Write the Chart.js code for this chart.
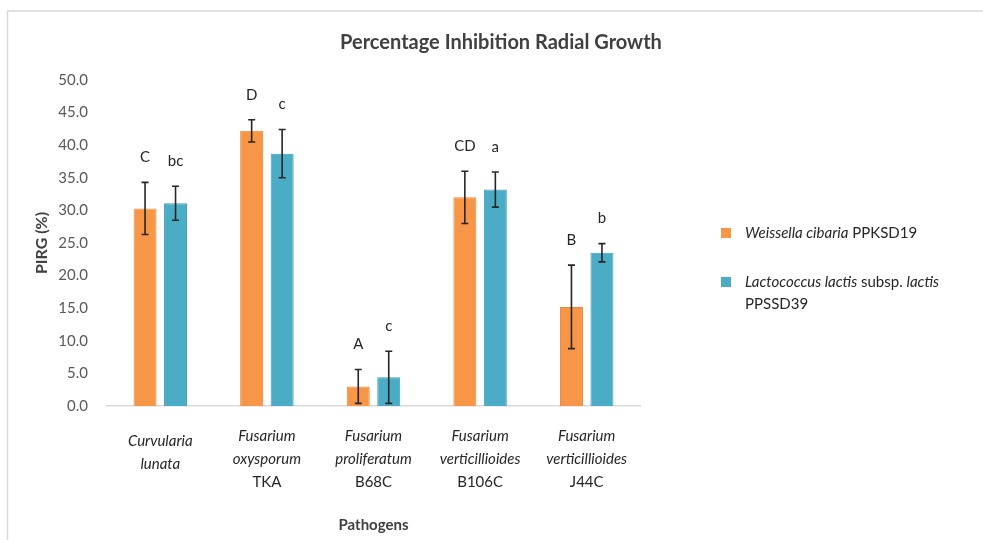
<!DOCTYPE html>
<html>
<head>
<meta charset="utf-8">
<script src="https://cdn.jsdelivr.net/npm/chart.js@4/dist/chart.umd.min.js"></script>
<style>
  html, body { margin: 0; padding: 0; background: #ffffff; }
  #wrap { position: relative; width: 983px; height: 540px; }
</style>
</head>
<body>
<div id="wrap"><canvas id="c" width="983" height="540"></canvas></div>
<script>
// Pathogen names: italic species lines, then an upright strain code (may be empty)
const pathogenSpecies = [
  ['Curvularia', 'lunata'],
  ['Fusarium', 'oxysporum'],
  ['Fusarium', 'proliferatum'],
  ['Fusarium', 'verticillioides'],
  ['Fusarium', 'verticillioides']
];
const pathogenStrain = ['', 'TKA', 'B68C', 'B106C', 'J44C'];

// Mean PIRG (%) and standard deviation per antagonist
const weissellaMean = [30.3, 42.2, 3.0, 32.0, 15.2];
const weissellaSD   = [4.0, 1.7, 2.6, 4.0, 6.4];
const lactococcusMean = [31.1, 38.7, 4.4, 33.2, 23.5];
const lactococcusSD   = [2.6, 3.7, 4.0, 2.7, 1.4];

// Significance letters shown above each bar
const weissellaLetters   = ['C', 'D', 'A', 'CD', 'B'];
const lactococcusLetters = ['bc', 'c', 'c', 'a', 'b'];

// Y axis ticks
const yTicks = [0, 5, 10, 15, 20, 25, 30, 35, 40, 45, 50];

const FONT = 'Lato, "Open Sans", "Liberation Sans", sans-serif';
const ORANGE = '#F79646';
const TEAL = '#4BACC6';

const errors = [weissellaSD, lactococcusSD];
const letters = [weissellaLetters, lactococcusLetters];

// Draws error bars, significance letters, category labels, axis titles, legend and frame
const decorations = {
  id: 'decorations',
  afterDatasetsDraw(chart) {
    const ctx = chart.ctx;
    const y = chart.scales.y;
    ctx.save();
    chart.data.datasets.forEach((ds, di) => {
      const meta = chart.getDatasetMeta(di);
      meta.data.forEach((bar, i) => {
        const v = ds.data[i];
        const sd = errors[di][i];
        const yTop = y.getPixelForValue(v + sd);
        const yBot = y.getPixelForValue(Math.max(0, v - sd));
        const x = bar.x;
        ctx.strokeStyle = '#262626';
        ctx.lineWidth = 1.6;
        ctx.beginPath();
        ctx.moveTo(x, yTop); ctx.lineTo(x, yBot);
        ctx.moveTo(x - 3.5, yTop); ctx.lineTo(x + 3.5, yTop);
        ctx.moveTo(x - 3.5, yBot); ctx.lineTo(x + 3.5, yBot);
        ctx.stroke();
        ctx.fillStyle = '#262626';
        ctx.font = '15px ' + FONT;
        ctx.textAlign = 'center';
        ctx.textBaseline = 'middle';
        ctx.fillText(letters[di][i], x, yTop - 25);
      });
    });
    ctx.restore();
  },
  afterDraw(chart) {
    const ctx = chart.ctx;
    const xs = chart.scales.x;
    ctx.save();

    // frame
    ctx.strokeStyle = '#d9d9d9';
    ctx.lineWidth = 1.5;
    ctx.beginPath();
    ctx.moveTo(7.5, 540); ctx.lineTo(7.5, 11); ctx.lineTo(983, 11);
    ctx.stroke();

    // title
    ctx.fillStyle = '#404040';
    ctx.font = 'bold 20px ' + FONT;
    ctx.textAlign = 'center';
    ctx.textBaseline = 'middle';
    ctx.fillText('Percentage Inhibition Radial Growth', 501, 43);

    // category labels
    ctx.fillStyle = '#262626';
    pathogenSpecies.forEach((lines, i) => {
      const cx = xs.getPixelForValue(i);
      const n = lines.length + (pathogenStrain[i] ? 1 : 0);
      let yy = 436 + (3 - n) * 5;
      ctx.font = 'italic 15px ' + FONT;
      lines.forEach(t => { ctx.fillText(t, cx, yy); yy += 23; });
      if (pathogenStrain[i]) {
        ctx.font = '15px ' + FONT;
        ctx.fillText(pathogenStrain[i], cx, yy);
      }
    });

    // axis titles
    ctx.font = 'bold 15px ' + FONT;
    ctx.fillStyle = '#404040';
    ctx.fillText('Pathogens', (xs.left + xs.right) / 2, 525);
    ctx.save();
    ctx.translate(42, 243);
    ctx.rotate(-Math.PI / 2);
    ctx.font = 'bold 16px ' + FONT;
    ctx.fillText('PIRG (%)', 0, 0);
    ctx.restore();

    // legend
    const items = [
      { color: ORANGE, y: 233, parts: [['italic', 'Weissella cibaria'], ['', ' PPKSD19']], extra: null },
      { color: TEAL, y: 282, parts: [['italic', 'Lactococcus lactis'], ['', ' subsp. '], ['italic', 'lactis']], extra: 'PPSSD39' }
    ];
    ctx.textAlign = 'left';
    items.forEach(it => {
      ctx.fillStyle = it.color;
      ctx.fillRect(721, it.y - 5, 10, 10);
      let tx = 745;
      ctx.fillStyle = '#262626';
      it.parts.forEach(([style, text]) => {
        ctx.font = (style ? style + ' ' : '') + '15px ' + FONT;
        ctx.fillText(text, tx, it.y);
        tx += ctx.measureText(text).width;
      });
      if (it.extra) {
        ctx.font = '15px ' + FONT;
        ctx.fillText(it.extra, 745, it.y + 22);
      }
    });
    ctx.restore();
  }
};

new Chart(document.getElementById('c'), {
  type: 'bar',
  data: {
    labels: pathogenSpecies.map((l, i) => l.concat(pathogenStrain[i] ? [pathogenStrain[i]] : []).join(' ')),
    datasets: [
      { label: 'Weissella cibaria PPKSD19', data: weissellaMean, backgroundColor: ORANGE, borderColor: '#e88a3c', borderWidth: 1 },
      { label: 'Lactococcus lactis subsp. lactis PPSSD39', data: lactococcusMean, backgroundColor: TEAL, borderColor: '#3d9db7', borderWidth: 1 }
    ]
  },
  options: {
    responsive: false,
    animation: false,
    events: [],
    layout: { padding: { left: 0, right: 343, top: 80, bottom: 0 } },
    plugins: { legend: { display: false }, title: { display: false }, tooltip: { enabled: false } },
    datasets: { bar: { categoryPercentage: 0.572, barPercentage: 0.754 } },
    scales: {
      x: {
        grid: { display: false, drawTicks: false },
        border: { display: true, color: '#d9d9d9', width: 1.5 },
        ticks: { display: false },
        afterFit(scale) { scale.height = 134; }
      },
      y: {
        min: 0, max: 50,
        afterBuildTicks(scale) { scale.ticks = yTicks.map(v => ({ value: v })); },
        grid: { display: false, drawTicks: false },
        border: { display: false },
        ticks: {
          padding: 19,
          color: '#595959',
          font: { family: FONT, size: 15 },
          callback: v => Number(v).toFixed(1)
        },
        afterFit(scale) { scale.width = 107; }
      }
    }
  },
  plugins: [decorations]
});
</script>
</body>
</html>
